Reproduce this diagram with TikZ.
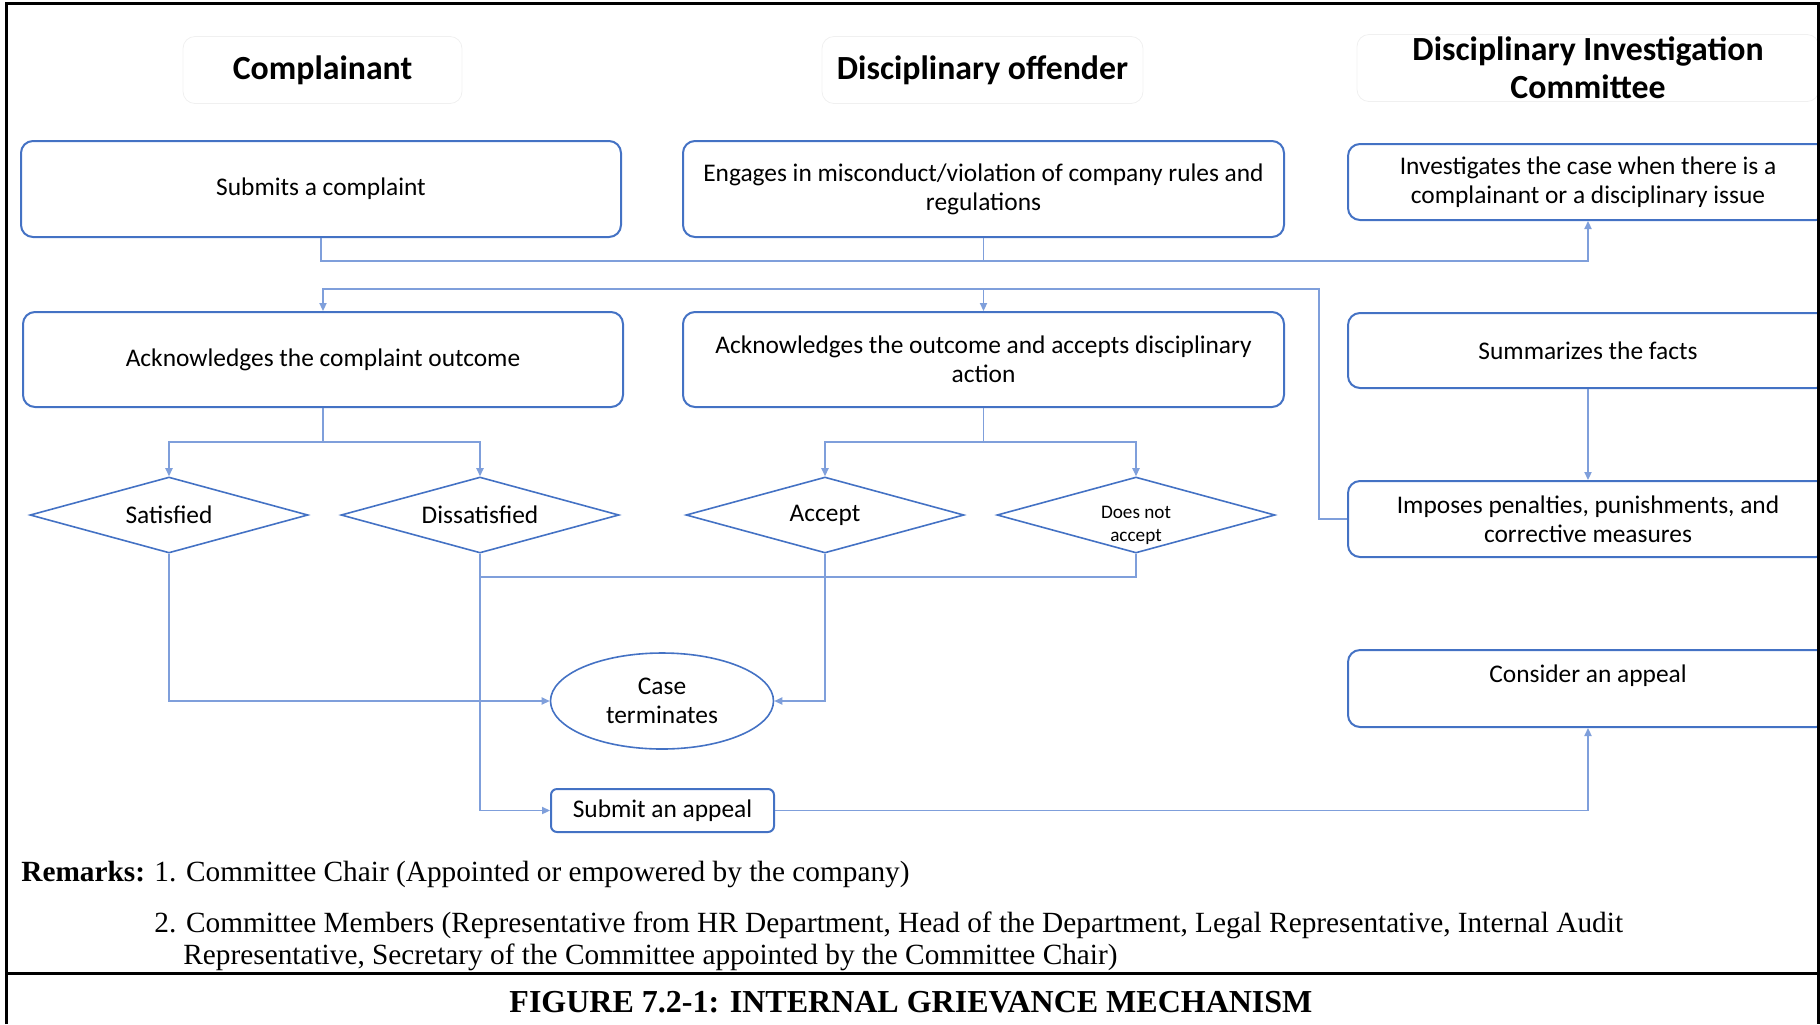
\documentclass[tikz,border=0pt]{standalone}
\usepackage{fontspec}
\setmainfont{Carlito}
\newfontfamily\timesfont{Liberation Serif}
\usepackage{tikz}
\usetikzlibrary{arrows.meta, positioning, shapes.geometric, calc}

\definecolor{boxblue}{HTML}{4472C4}
\definecolor{connblue}{HTML}{7F9FDB}

\begin{document}
\begin{tikzpicture}[x=0.5pt, y=-0.5pt,
    every node/.style={font=\fontsize{12.7}{14.5}\selectfont, inner sep=1pt},
    box/.style={draw=boxblue, line width=1pt, rounded corners=6pt, align=center},
    ttl/.style={draw=black!6, rounded corners=6pt, align=center, font=\fontsize{16.9}{19}\selectfont\bfseries},
    choice/.style={draw=boxblue, line width=0.8pt, diamond, aspect=3.6, inner sep=0pt, minimum width=139pt, minimum height=38pt},
    conn/.style={draw=connblue, line width=0.7pt},
    tip/.style={-{Triangle[length=4pt,width=3.6pt]}},
    remark/.style={anchor=base west, inner sep=0pt, font=\timesfont\fontsize{14.65}{17}\selectfont}]
    \useasboundingbox (0,0) rectangle (1820,1024);

    % column headings
    \node[ttl, minimum width=139.5pt, minimum height=33.5pt] (ttlC) at (322.5,70) {Complainant};
    \node[ttl, minimum width=160.5pt, minimum height=33.5pt] (ttlD) at (982.5,70) {Disciplinary offender};
    \node[ttl, minimum width=231pt, minimum height=33.5pt] (ttlI) at (1588,68) {Disciplinary Investigation\\Committee};

    % steps
    \node[box, minimum width=300pt, minimum height=48pt] (submit) at (321,189) {Submits a complaint};
    \node[box, minimum width=300.5pt, minimum height=48pt] (engage) at (983.5,189) {Engages in misconduct/violation of company rules and\\regulations};
    \node[box, minimum width=240pt, minimum height=38pt] (invest) at (1588,182) {Investigates the case when there is a\\complainant or a disciplinary issue};
    \node[box, minimum width=300pt, minimum height=47.5pt] (ackc) at (323,359.5) {Acknowledges the complaint outcome};
    \node[box, minimum width=300.5pt, minimum height=47.5pt] (acko) at (983.5,359.5) {Acknowledges the outcome and accepts disciplinary\\action};
    \node[box, minimum width=240pt, minimum height=37.5pt] (summ) at (1588,350.5) {Summarizes the facts};
    \node[box, minimum width=240pt, minimum height=38pt] (impose) at (1588,519) {Imposes penalties, punishments, and\\corrective measures};
    \node[box, minimum width=240pt, minimum height=38.5pt] (consider) at (1588,688.5) {Consider an appeal\\\mbox{}};

    % decisions
    \node[choice] (sat) at (169,515) {Satisfied};
    \node[choice] (dis) at (480,515) {Dissatisfied};
    \node[choice] (acc) at (825,515) {Accept};
    \node[choice, label={[font=\fontsize{9.6}{11.5}\selectfont, align=center, yshift=-5pt]center:Does not\\accept}] (dna) at (1136,515) {};

    % outcomes
    \node[draw=boxblue, line width=0.8pt, ellipse, align=center, inner sep=0pt, minimum width=111.5pt, minimum height=48pt] (case) at (662,701) {Case\\terminates};
    \node[box, rounded corners=3pt, minimum width=111.5pt, minimum height=21.5pt] (appeal) at (662.5,810.5) {Submit an appeal};

    % bus lines
    \coordinate (busA) at (0,261);
    \coordinate (busB) at (1319,289);
    \coordinate (busC) at (0,442);
    \coordinate (busD) at (0,577);

    \draw[conn, tip] (submit.south) |- (invest.south |- busA) -- (invest.south);
    \draw[conn] (engage.south) -- (engage.south |- busA);
    \draw[conn, tip] (summ) -- (impose);
    \draw[conn, tip] (impose.west) -| (busB) -- (ackc.north |- busB) -- (ackc.north);
    \draw[conn, tip] (acko.north |- busB) -- (acko.north);
    \draw[conn, tip] (ackc.south) -- (ackc.south |- busC) -| (sat.north);
    \draw[conn, tip] (ackc.south |- busC) -| (dis.north);
    \draw[conn, tip] (acko.south) -- (acko.south |- busC) -| (acc.north);
    \draw[conn, tip] (acko.south |- busC) -| (dna.north);
    \draw[conn, tip] (sat.south) |- (case.west);
    \draw[conn, tip] (acc.south) |- (case.east);
    \draw[conn, tip] (dis.south) |- (appeal.west);
    \draw[conn] (dna.south) |- (dis.south |- busD);
    \draw[conn, tip] (appeal.east) -| (consider.south);

    % remarks and caption
    \node[remark] (remk) at (21,881) {\textbf{Remarks:}};
    \node[remark] (rem1) at (154,881) {1. Committee Chair (Appointed or empowered by the company)};
    \node[remark] (rem2) at (154,932) {2. Committee Members (Representative from HR Department, Head of the Department, Legal Representative, Internal Audit};
    \node[remark] (rem3) at (183,964) {Representative, Secretary of the Committee appointed by the Committee Chair)};
    \node[anchor=base, inner sep=0pt, font=\timesfont\fontsize{16}{19}\selectfont\bfseries] (capt) at (911,1012) {FIGURE 7.2-1: INTERNAL GRIEVANCE MECHANISM};

    % frame
    \draw[line width=1.5pt] (6,1024) -- (6,3) -- (1818,3) -- (1818,1024);
    \draw[line width=1.5pt] (6,973) -- (1818,973);
\end{tikzpicture}
\end{document}
